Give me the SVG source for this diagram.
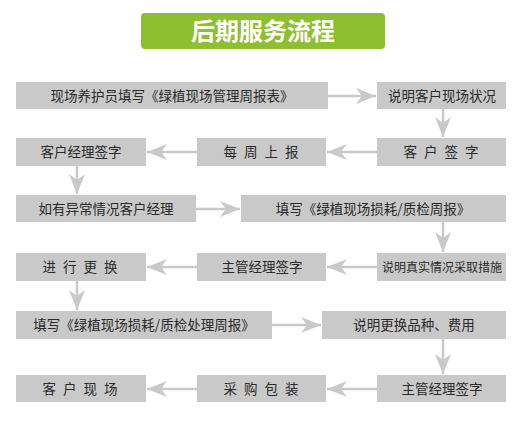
<svg xmlns="http://www.w3.org/2000/svg" width="530" height="421" viewBox="0 0 530 421">
<defs>
<style>
.box{fill:#c9c9c9}
.t{font-family:"Noto Sans CJK SC","Noto Sans",sans-serif;font-size:13.5px;fill:#2a2a2a;text-anchor:middle}
.sm{font-size:12px}
.sp{letter-spacing:2px}
.c{stroke:#c9c9c9;stroke-width:2.5;fill:none}
.title{font-family:"Noto Sans CJK SC","Noto Sans",sans-serif;font-size:24px;font-weight:bold;fill:#ffffff;text-anchor:middle}
</style>
<marker id="ah" markerUnits="userSpaceOnUse" markerWidth="22" markerHeight="18" refX="20" refY="9" orient="auto">
<path d="M20,9 L0,1 L6,9 L0,17 Z" fill="#c9c9c9"/>
</marker>
</defs>
<rect width="530" height="421" fill="#ffffff"/>
<g id="title">
<rect x="141" y="13" width="244" height="36" rx="4" fill="#8dbf2e"/>
<text class="title" x="263" y="40">后期服务流程</text>
</g>
<g id="connectors">
<line class="c" x1="328" y1="96" x2="376" y2="96" marker-end="url(#ah)"/>
<line class="c" x1="443" y1="109" x2="443" y2="137" marker-end="url(#ah)"/>
<line class="c" x1="377" y1="152" x2="327" y2="152" marker-end="url(#ah)"/>
<line class="c" x1="197" y1="152" x2="147" y2="152" marker-end="url(#ah)"/>
<line class="c" x1="77" y1="166" x2="77" y2="194" marker-end="url(#ah)"/>
<line class="c" x1="196" y1="209" x2="240" y2="209" marker-end="url(#ah)"/>
<line class="c" x1="443" y1="222" x2="443" y2="252" marker-end="url(#ah)"/>
<line class="c" x1="377" y1="267" x2="327" y2="267" marker-end="url(#ah)"/>
<line class="c" x1="197" y1="267" x2="147" y2="267" marker-end="url(#ah)"/>
<line class="c" x1="77" y1="281" x2="77" y2="310" marker-end="url(#ah)"/>
<line class="c" x1="272" y1="325" x2="321" y2="325" marker-end="url(#ah)"/>
<line class="c" x1="443" y1="339" x2="443" y2="374" marker-end="url(#ah)"/>
<line class="c" x1="377" y1="389" x2="327" y2="389" marker-end="url(#ah)"/>
<line class="c" x1="197" y1="389" x2="147" y2="389" marker-end="url(#ah)"/>
</g>
<g id="n1"><rect class="box" x="16" y="82" width="312" height="27"/><text class="t" x="172" y="100.5">现场养护员填写《绿植现场管理周报表》</text></g>
<g id="n2"><rect class="box" x="377" y="82" width="129" height="27"/><text class="t" x="442" y="100.5">说明客户现场状况</text></g>
<g id="n3"><rect class="box" x="377" y="138" width="129" height="28"/><text class="t sp" x="442" y="157">客 户 签 字</text></g>
<g id="n4"><rect class="box" x="197" y="138" width="129" height="28"/><text class="t sp" x="262" y="157">每 周 上 报</text></g>
<g id="n5"><rect class="box" x="16" y="138" width="130" height="28"/><text class="t" x="81" y="157">客户经理签字</text></g>
<g id="n6"><rect class="box" x="16" y="195" width="180" height="27"/><text class="t" x="106" y="213.5">如有异常情况客户经理</text></g>
<g id="n7"><rect class="box" x="241" y="195" width="265" height="27"/><text class="t" x="373" y="213.5">填写《绿植现场损耗/质检周报》</text></g>
<g id="n8"><rect class="box" x="377" y="253" width="129" height="28"/><text class="t sm" x="442" y="271.5">说明真实情况采取措施</text></g>
<g id="n9"><rect class="box" x="197" y="253" width="129" height="28"/><text class="t" x="262" y="272">主管经理签字</text></g>
<g id="n10"><rect class="box" x="16" y="253" width="130" height="28"/><text class="t sp" x="81" y="272">进 行 更 换</text></g>
<g id="n11"><rect class="box" x="16" y="311" width="256" height="28"/><text class="t" x="144" y="330">填写《绿植现场损耗/质检处理周报》</text></g>
<g id="n12"><rect class="box" x="322" y="311" width="184" height="28"/><text class="t" x="414" y="330">说明更换品种、费用</text></g>
<g id="n13"><rect class="box" x="377" y="375" width="129" height="27"/><text class="t" x="442" y="393.5">主管经理签字</text></g>
<g id="n14"><rect class="box" x="197" y="375" width="129" height="27"/><text class="t sp" x="262" y="393.5">采 购 包 装</text></g>
<g id="n15"><rect class="box" x="16" y="375" width="130" height="27"/><text class="t sp" x="81" y="393.5">客 户 现 场</text></g>
</svg>
